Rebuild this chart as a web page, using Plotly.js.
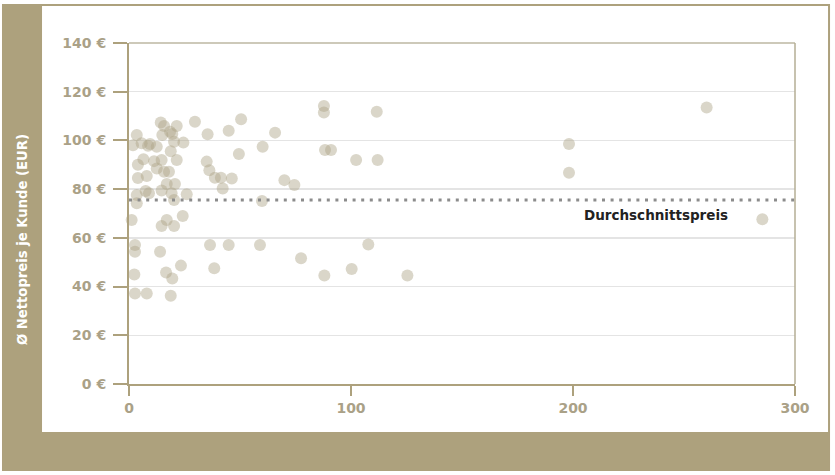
<!DOCTYPE html>
<html>
<head>
<meta charset="utf-8">
<script src="https://cdn.plot.ly/plotly-3.0.1.min.js"></script>
<style>html,body{margin:0;padding:0;background:#fff;}#chart{width:835px;height:475px;}</style>
</head>
<body>
<div id="chart"></div>
<script>
// Anzahl Kunden (x) und Ø Nettopreis je Kunde (y)
const customers = [1.2,3.5,1.8,5.7,4,6.5,8.6,9.5,12.5,4,8,11.3,14.7,12.5,15.8,18,3.5,3.5,7.5,9,14.7,17,19.2,20.7,20.3,26,
  14.3,15.8,15,18.5,19.5,21.5,20.3,24.5,18.8,21.5,14.7,17,20.3,24.2,29.7,35.4,35,36.2,38.7,41.4,42.2,46.3,44.9,49.5,50.5,
  60.2,59.9,65.8,70,74.5,87.8,87.8,88.3,91,102.3,111.6,112,2.7,2.7,2.4,2.7,8,14,16.7,19.5,23.4,18.8,36.5,38.4,44.9,59,
  77.5,88,100.3,107.8,125.4,198.2,198.2,260.2,285.3];
const netPrice = [67.3,102.2,98,98.8,90,92.3,97.8,98.5,97.4,84.6,85.4,91.5,92,88.5,87.1,87.1,77.6,74.2,79.2,78.3,79.4,82.1,78.3,82.1,75.5,77.9,
  107.4,105.9,102.2,103.6,102.6,105.9,99.5,99.1,95.6,92,64.9,67.3,64.9,69,107.7,102.5,91.3,87.8,84.7,84.7,80.3,84.4,104,94.4,108.7,
  97.4,75.1,103.2,83.7,81.7,114.1,111.5,96.1,96.1,92,111.8,92,57.1,54.3,45,37.2,37.2,54.3,45.8,43.3,48.6,36.2,57.1,47.5,57.1,57.1,
  51.6,44.5,47.2,57.3,44.5,98.5,86.7,113.5,67.6];
const avgPrice = 75.5;
const avgLabel = "Durchschnittspreis";
const xTicks = [0,100,200,300];
const yTicks = [0,20,40,60,80,100,120,140];
const yTitle = "Ø Nettopreis je Kunde (EUR)";

const tan = "#ada17d";
const tickColor = "#aaa187";
const fontFam = "DejaVu Sans, Open Sans, sans-serif";

const traces = [
  {
    type: "scatter", mode: "markers", x: customers, y: netPrice,
    marker: {size: 12, color: "rgb(172,165,135)", opacity: 0.45, line: {width: 0}},
    hoverinfo: "x+y", showlegend: false, cliponaxis: false
  },
  {
    type: "scatter", mode: "lines", x: [xTicks[0], xTicks[xTicks.length-1]], y: [avgPrice, avgPrice],
    line: {color: "#8c8c8c", width: 3, dash: "3px,5.6px"},
    hoverinfo: "skip", showlegend: false
  }
];

const layout = {
  width: 835, height: 475,
  margin: {l: 129, r: 40, t: 43, b: 91, pad: 0},
  paper_bgcolor: "#ffffff", plot_bgcolor: "#ffffff",
  showlegend: false,
  font: {family: fontFam, color: tickColor},
  xaxis: {
    range: [0, 300], tickvals: xTicks, ticktext: xTicks.map(String),
    showgrid: false, zeroline: false,
    showline: true, linecolor: tan, linewidth: 2,
    ticks: "outside", ticklen: 10, tickwidth: 2, tickcolor: tan,
    tickfont: {family: fontFam, size: 14, color: tickColor, weight: 700},
    fixedrange: true
  },
  yaxis: {
    range: [0, 140], tickvals: yTicks, ticktext: yTicks.map(v => v + " €"),
    showgrid: true, gridcolor: "#e4e4e4", gridwidth: 1.5, zeroline: false,
    showline: true, linecolor: tan, linewidth: 2,
    ticks: "outside", ticklen: 14, tickwidth: 2, tickcolor: tan,
    tickfont: {family: fontFam, size: 14, color: tickColor, weight: 700},
    ticklabelstandoff: 4,
    fixedrange: true
  },
  shapes: [
    {type: "rect", xref: "paper", yref: "paper", x0: -0.1892, x1: 1.0511, y0: -0.2522, y1: 1.1114,
     line: {color: tan, width: 2}, fillcolor: "rgba(0,0,0,0)", layer: "below"},
    {type: "rect", xref: "paper", yref: "paper", x0: -0.1892, x1: -0.1306, y0: -0.2522, y1: 1.1114,
     line: {width: 0}, fillcolor: tan, layer: "below"},
    {type: "rect", xref: "paper", yref: "paper", x0: -0.1892, x1: 1.0511, y0: -0.2522, y1: -0.1408,
     line: {width: 0}, fillcolor: tan, layer: "below"},
    {type: "line", xref: "paper", yref: "paper", x0: 0, x1: 1, y0: 1, y1: 1, line: {color: "#bdb7a2", width: 1.5}},
    {type: "line", xref: "paper", yref: "paper", x0: 1, x1: 1, y0: 0, y1: 1, line: {color: "#b5ae94", width: 1.5}}
  ],
  annotations: [
    {xref: "paper", yref: "paper", x: -0.1607, y: 0.425, text: yTitle, textangle: -90, showarrow: false,
     font: {family: fontFam, size: 13.2, color: "#ffffff", weight: 700}, xanchor: "center", yanchor: "middle"},
    {xref: "x", yref: "y", x: 237.4, y: 69.4, text: avgLabel, showarrow: false,
     font: {family: fontFam, size: 13.5, color: "#222222", weight: 700}, xanchor: "center", yanchor: "middle"}
  ]
};

Plotly.newPlot("chart", traces, layout, {displayModeBar: false, staticPlot: true});
</script>
</body>
</html>
